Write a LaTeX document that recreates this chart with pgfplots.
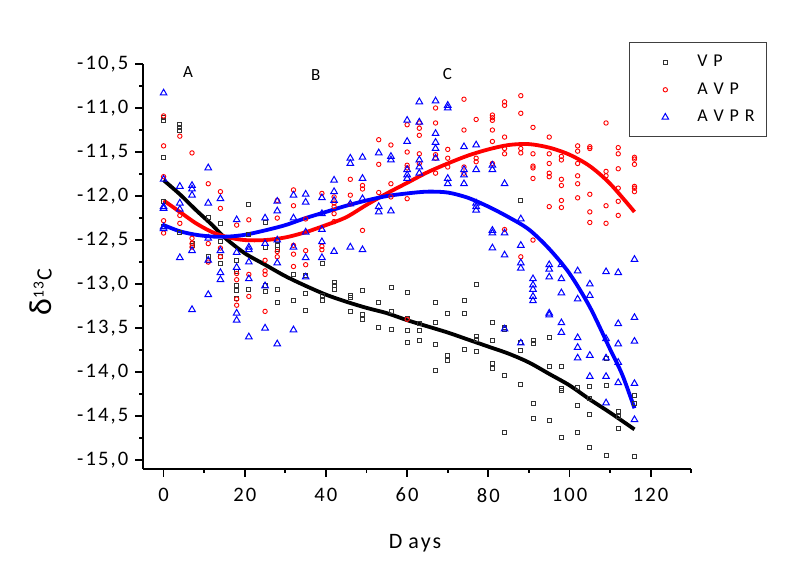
\documentclass[border=0pt]{standalone}
\usepackage{fontspec}
\setmainfont{Carlito}[LetterSpace=10]
\usepackage{pgfplots}
\pgfplotsset{compat=1.18}

\begin{document}
\begin{tikzpicture}
\useasboundingbox (0,0) rectangle (400pt,280.5pt);
\begin{axis}[
  at={(71.65pt,46pt)}, anchor=south west,
  scale only axis, width=274pt, height=202.5pt,
  xmin=-5, xmax=130, ymin=-15.1, ymax=-10.5,
  axis lines*=left,
  axis line style={line width=0.9pt},
  tick align=outside,
  major tick length=4pt, minor tick length=2pt,
  every tick/.style={line width=0.9pt, black},
  xtick={0,20,40,60,80,100,120},
  minor xtick={10,30,50,70,90,110,130},
  ytick={-15,-14.5,-14,-13.5,-13,-12.5,-12,-11.5,-11,-10.5},
  minor ytick={-14.75,-14.25,-13.75,-13.25,-12.75,-12.25,-11.75,-11.25,-10.75},
  /pgf/number format/assume math mode=true,
  ticklabel style={font=\fontsize{10.3}{12}\selectfont},
  yticklabel style={/pgf/number format/.cd, fixed, fixed zerofill, precision=1, use comma},
  xticklabel style={yshift=-2pt},
  xlabel={D\kern3pt ays},
  xlabel style={at={(axis description cs:0.496,-0.183)}, anchor=center, font=\fontsize{11}{12}\selectfont},
  ylabel={{\fontsize{16}{16}\selectfont δ}\textsuperscript{13}C},
  ylabel style={at={(axis description cs:-0.187,0.437)}, anchor=center, font=\fontsize{11}{12}\selectfont},
  legend style={at={(rel axis cs:1.138,1.054)}, anchor=north east,
    draw=black!75, line width=0.6pt, inner xsep=0pt, inner ysep=2.9pt,
    row sep=0pt, column sep=0pt,
    nodes={inner sep=0pt, font=\fontsize{9}{10}\selectfont}, cells={anchor=west}},
  legend image code/.code={\path[draw=none, fill=none] (-18pt,-6.875pt) rectangle (16pt,6.875pt);
    \draw[#1] plot coordinates {(0pt,0pt)};},
]
% VP
\addplot[only marks, mark=square, mark size=1pt, black!80, mark options={line width=0.4pt}] coordinates {
(0,-11.11) (0,-11.14) (0,-11.56) (0,-12.06) (0,-12.34)
(4,-11.19) (4,-11.22) (4,-11.25) (4,-12.41)
(7,-12.54) (7,-12.56)
(11,-12.24) (11,-12.68) (11,-12.73)
(14,-12.31) (14,-12.51) (14,-12.68) (14,-12.76)
(18,-12.73) (18,-12.86) (18,-13.02) (18,-13.07) (18,-13.16)
(21,-12.10) (21,-12.43) (21,-13.06)
(25,-12.30) (25,-12.58) (25,-13.01) (25,-13.08)
(28,-12.50) (28,-12.56) (28,-12.61) (28,-13.06) (28,-13.21)
(32,-12.89) (32,-13.19)
(35,-12.90) (35,-13.10) (35,-13.30)
(39,-12.76) (39,-13.13) (39,-13.18)
(42,-12.98) (42,-13.02) (42,-13.06)
(46,-13.13) (46,-13.15) (46,-13.31)
(49,-13.07) (49,-13.34) (49,-13.40)
(53,-13.21) (53,-13.49)
(56,-13.04) (56,-13.31) (56,-13.52)
(60,-13.09) (60,-13.39) (60,-13.53) (60,-13.66)
(63,-13.45) (63,-13.53) (63,-13.64)
(67,-13.21) (67,-13.43) (67,-13.69) (67,-13.98)
(70,-13.33) (70,-13.81) (70,-13.87)
(74,-13.18) (74,-13.33) (74,-13.74)
(77,-13.00) (77,-13.59) (77,-13.63) (77,-13.76)
(81,-13.44) (81,-13.64) (81,-13.90) (81,-13.96)
(84,-13.49) (84,-13.52) (84,-14.04) (84,-14.69)
(88,-12.05) (88,-13.66) (88,-13.75) (88,-14.14)
(91,-13.64) (91,-13.67) (91,-14.36) (91,-14.53)
(95,-13.60) (95,-13.93) (95,-14.55)
(98,-13.93) (98,-14.19) (98,-14.21) (98,-14.74)
(102,-14.17) (102,-14.38) (102,-14.69)
(105,-14.16) (105,-14.30) (105,-14.48) (105,-14.85)
(109,-13.84) (109,-14.15) (109,-14.95)
(112,-14.45) (112,-14.50) (112,-14.64)
(116,-14.26) (116,-14.35) (116,-14.96)
};
\addlegendentry{\makebox[34.5pt][l]{V P}}
% AVP
\addplot[only marks, mark=o, mark size=1.1pt, red, mark options={line width=0.45pt}] coordinates {
(0,-11.09) (0,-11.43) (0,-11.78) (0,-12.28) (0,-12.42)
(4,-11.32) (4,-12.22) (4,-12.31)
(7,-11.51) (7,-12.48) (7,-12.54) (7,-12.58)
(11,-11.86) (11,-12.54) (11,-12.75)
(14,-11.95) (14,-12.14) (14,-12.59) (14,-12.69)
(18,-12.33) (18,-12.88) (18,-12.95) (18,-13.17) (18,-13.24)
(21,-12.27) (21,-12.89) (21,-13.14)
(25,-12.73) (25,-12.85) (25,-12.89) (25,-13.31)
(28,-12.05) (28,-12.25) (28,-12.63) (28,-12.69)
(32,-11.93) (32,-12.11) (32,-12.56) (32,-12.66) (32,-12.80)
(35,-12.26) (35,-12.62) (35,-12.78)
(39,-11.97) (39,-12.57) (39,-12.61)
(42,-12.01) (42,-12.08) (42,-12.12) (42,-12.20) (42,-12.29)
(46,-11.81) (46,-11.99) (46,-12.09)
(49,-11.88) (49,-11.92) (49,-12.39)
(53,-11.36) (53,-11.64) (53,-11.96)
(56,-11.42) (56,-11.86) (56,-12.01)
(60,-11.19) (60,-11.50) (60,-11.65) (60,-11.68) (60,-12.03) (60,-13.40)
(63,-11.17) (63,-11.23) (63,-11.31) (63,-11.52) (63,-11.63)
(67,-11.00) (67,-11.17) (67,-11.53) (67,-11.57) (67,-11.74)
(70,-11.47) (70,-11.57) (70,-11.67)
(74,-10.90) (74,-11.25) (74,-11.67) (74,-11.74)
(77,-11.13) (77,-11.57) (77,-11.61)
(81,-11.08) (81,-11.11) (81,-11.14) (81,-11.25) (81,-11.38) (81,-11.63)
(84,-10.93) (84,-10.97) (84,-11.33) (84,-11.46) (84,-11.52) (84,-12.38)
(88,-10.86) (88,-11.06) (88,-11.46) (88,-11.51) (88,-12.69)
(91,-11.22) (91,-11.52) (91,-11.66) (91,-11.68) (91,-11.80) (91,-12.50)
(95,-11.33) (95,-11.52) (95,-11.63) (95,-11.74) (95,-11.78) (95,-12.12)
(98,-11.55) (98,-11.59) (98,-11.81) (98,-11.88) (98,-12.05) (98,-12.13)
(102,-11.43) (102,-11.49) (102,-11.63) (102,-11.77) (102,-11.86) (102,-12.02)
(105,-11.44) (105,-11.46) (105,-11.98) (105,-12.18) (105,-12.30)
(109,-11.17) (109,-11.72) (109,-11.77) (109,-12.11) (109,-12.31)
(112,-11.45) (112,-11.52) (112,-11.69) (112,-11.91) (112,-12.06) (112,-12.22)
(116,-11.56) (116,-11.58) (116,-11.64) (116,-11.89) (116,-11.91) (116,-11.95)
};
\addlegendentry{\makebox[34.5pt][l]{A V P}}
% AVPR
\addplot[only marks, mark=triangle, mark size=1.9pt, blue, mark options={line width=0.5pt}] coordinates {
(0,-10.83) (0,-11.81) (0,-12.12) (0,-12.14) (0,-12.35) (0,-12.37)
(4,-11.89) (4,-12.08) (4,-12.15) (4,-12.70)
(7,-11.88) (7,-11.92) (7,-11.99) (7,-12.62) (7,-13.29)
(11,-11.68) (11,-12.08) (11,-12.48) (11,-12.73) (11,-13.12)
(14,-12.03) (14,-12.62) (14,-12.87) (14,-12.95)
(18,-12.27) (18,-12.64) (18,-12.81) (18,-13.33) (18,-13.41)
(21,-12.58) (21,-12.61) (21,-12.75) (21,-12.94) (21,-13.60)
(25,-12.25) (25,-12.54) (25,-13.02) (25,-13.50)
(28,-12.06) (28,-12.17) (28,-12.50) (28,-12.76) (28,-13.68)
(32,-11.99) (32,-12.25) (32,-12.58) (32,-13.52)
(35,-11.98) (35,-12.07) (35,-12.41) (35,-12.70) (35,-12.92)
(39,-12.02) (39,-12.20) (39,-12.38) (39,-12.52) (39,-12.70)
(42,-11.82) (42,-11.95) (42,-12.05) (42,-12.63)
(46,-11.57) (46,-11.63) (46,-12.09) (46,-12.58)
(49,-11.56) (49,-11.80) (49,-12.03) (49,-12.61)
(53,-11.51) (53,-12.12) (53,-12.18)
(56,-11.55) (56,-11.59) (56,-12.17)
(60,-11.14) (60,-11.38) (60,-11.70) (60,-11.76) (60,-11.80)
(63,-10.93) (63,-11.16) (63,-11.59) (63,-11.67) (63,-11.74)
(67,-10.92) (67,-11.29) (67,-11.39) (67,-11.46) (67,-11.57)
(70,-10.97) (70,-11.00) (70,-11.80) (70,-11.86)
(74,-11.44) (74,-11.70) (74,-11.76) (74,-11.86)
(77,-11.42) (77,-11.70) (77,-12.08) (77,-12.12) (77,-12.16)
(81,-11.65) (81,-11.70) (81,-12.39) (81,-12.42) (81,-12.59)
(84,-11.86) (84,-12.42) (84,-12.67) (84,-13.51)
(88,-12.26) (88,-12.56) (88,-12.76) (88,-12.82) (88,-13.67)
(91,-12.94) (91,-13.01) (91,-13.06) (91,-13.14) (91,-13.19)
(95,-12.78) (95,-12.83) (95,-12.92) (95,-13.33) (95,-13.35)
(98,-12.78) (98,-12.94) (98,-13.10) (98,-13.44) (98,-13.55)
(102,-12.85) (102,-13.17) (102,-13.61) (102,-13.72) (102,-13.84)
(105,-13.00) (105,-13.13) (105,-13.81) (105,-14.05)
(109,-12.86) (109,-13.62) (109,-13.84) (109,-14.05) (109,-14.35)
(112,-12.87) (112,-13.45) (112,-13.68) (112,-13.89) (112,-14.12)
(116,-12.72) (116,-13.38) (116,-13.65) (116,-14.13) (116,-14.54)
};
\addlegendentry{\makebox[34.5pt][l]{A V P R}}
% fitted curves
\addplot[black, line width=1.9pt, smooth, forget plot] coordinates {
(0,-11.82) (4,-11.98) (8,-12.16) (12,-12.33) (15,-12.47) (20,-12.65)
(25,-12.78) (30,-12.91) (35,-13.02) (40,-13.12) (45,-13.20) (50,-13.27)
(55,-13.33) (60,-13.41) (65,-13.48) (70,-13.55) (75,-13.63) (80,-13.71)
(85,-13.79) (90,-13.89) (95,-14.02) (100,-14.15) (105,-14.31) (110,-14.46) (116,-14.65)
};
\addplot[red, line width=1.9pt, smooth, forget plot] coordinates {
(0,-12.05) (4,-12.18) (8,-12.31) (12,-12.41) (16,-12.47) (20,-12.50)
(25,-12.50) (30,-12.47) (35,-12.41) (40,-12.33) (45,-12.24) (50,-12.10)
(55,-11.97) (60,-11.85) (65,-11.73) (70,-11.63) (75,-11.54) (80,-11.47)
(85,-11.42) (90,-11.41) (95,-11.45) (100,-11.53) (105,-11.66) (110,-11.86) (116,-12.18)
};
\addplot[blue, line width=1.9pt, smooth, forget plot] coordinates {
(0,-12.33) (4,-12.40) (8,-12.44) (12,-12.46) (16,-12.46) (20,-12.44)
(25,-12.39) (30,-12.33) (35,-12.25) (40,-12.18) (45,-12.11) (50,-12.05)
(55,-12.00) (60,-11.97) (65,-11.95) (70,-11.96) (75,-12.02) (80,-12.12)
(85,-12.24) (90,-12.38) (95,-12.60) (100,-12.88) (105,-13.26) (110,-13.74) (113,-14.03) (116,-14.41)
};
\node[font=\fontsize{8.5}{9}\selectfont] at (axis cs:6,-10.59) {A};
\node[font=\fontsize{8.5}{9}\selectfont] at (axis cs:37.5,-10.62) {B};
\node[font=\fontsize{8.5}{9}\selectfont] at (axis cs:69.9,-10.61) {C};
\end{axis}
\end{tikzpicture}
\end{document}
